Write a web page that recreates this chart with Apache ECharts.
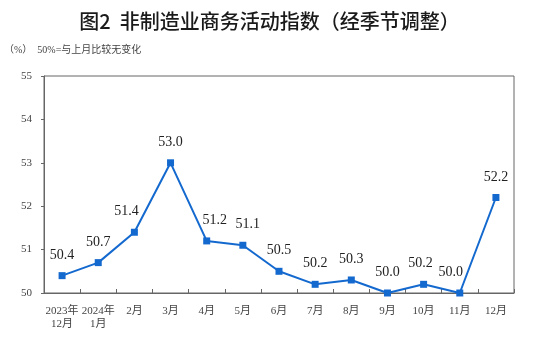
<!DOCTYPE html>
<html>
<head>
<meta charset="utf-8">
<script src="https://cdn.jsdelivr.net/npm/echarts@6/dist/echarts.min.js"></script>
<style>
  html, body { margin: 0; padding: 0; background: #fff; }
  #chart { width: 539px; height: 340px; }
</style>
</head>
<body>
<div id="chart"></div>
<script>
// Non-manufacturing business activity index, seasonally adjusted
const months = ['2023年\n12月', '2024年\n1月', '2月', '3月', '4月', '5月', '6月', '7月', '8月', '9月', '10月', '11月', '12月'];
const indexValues = [50.4, 50.7, 51.4, 53.0, 51.2, 51.1, 50.5, 50.2, 50.3, 50.0, 50.2, 50.0, 52.2];
const yTicks = [50, 51, 52, 53, 54, 55];

// horizontal nudges for a few value labels so they clear the line
const labelNudge = { 2: -8, 4: 8, 5: 5, 10: -3, 11: -9 };

const serif = '"Liberation Serif", "Times New Roman", "Noto Sans CJK SC", serif';
const lineColor = '#1469cf';

const chart = echarts.init(document.getElementById('chart'), null, { renderer: 'canvas' });

chart.setOption({
  animation: false,
  backgroundColor: '#fff',
  title: {
    text: '图2  非制造业商务活动指数（经季节调整）',
    left: 'center',
    top: 6,
    textStyle: {
      fontFamily: '"Noto Sans CJK SC", sans-serif',
      fontSize: 20,
      fontWeight: 500,
      color: '#1a1a1a'
    }
  },
  graphic: [
    {
      type: 'text',
      left: 4,
      top: 45,
      style: {
        text: '（%）  50%=与上月比较无变化',
        font: '10px ' + serif,
        fill: '#444'
      }
    }
  ],
  grid: { left: 44, right: 25, top: 76, bottom: 47, show: true, borderColor: '#666', borderWidth: 1 },
  xAxis: {
    type: 'category',
    data: months,
    boundaryGap: true,
    axisLine: { lineStyle: { color: '#666', width: 1 } },
    axisTick: { show: true, inside: true, length: 4, lineStyle: { color: '#666' } },
    axisLabel: {
      color: '#444',
      fontFamily: serif,
      fontSize: 11,
      lineHeight: 13,
      margin: 12,
      interval: 0
    },
    splitLine: { show: false }
  },
  yAxis: {
    type: 'value',
    min: yTicks[0],
    max: yTicks[yTicks.length - 1],
    interval: 1,
    axisLine: { show: true, lineStyle: { color: '#666', width: 1 } },
    axisTick: { show: true, inside: false, length: 3, lineStyle: { color: '#666' } },
    axisLabel: { color: '#444', fontFamily: serif, fontSize: 11, margin: 12 },
    splitLine: { show: false }
  },
  series: [{
    type: 'line',
    data: indexValues.map((v, i) => ({
      value: v,
      label: { offset: [labelNudge[i] || 0, 0] }
    })),
    symbol: 'rect',
    symbolSize: 7,
    lineStyle: { color: lineColor, width: 2 },
    itemStyle: { color: lineColor },
    label: {
      show: true,
      position: 'top',
      distance: 10,
      formatter: p => p.value.toFixed(1),
      fontFamily: serif,
      fontSize: 14,
      color: '#222'
    }
  }]
});
</script>
</body>
</html>
